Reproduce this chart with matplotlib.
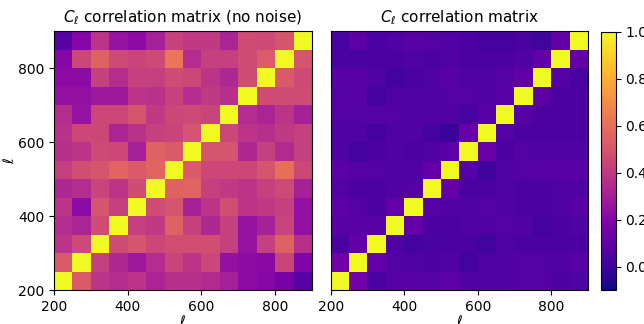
import numpy as np
import matplotlib
matplotlib.use("Agg")
import matplotlib.pyplot as plt

ell_edges = [200, 250, 300, 350, 400, 450, 500, 550, 600, 650, 700, 750, 800, 850, 900]
ticks = [200, 400, 600, 800]

# rows listed from ell=200 (bottom) to ell=850 (top)
corr_nonoise = [
    [1.00, 0.52, 0.38, 0.35, 0.38, 0.32, 0.36, 0.36, 0.34, 0.30, 0.22, 0.20, 0.16, 0.07],
    [0.52, 1.00, 0.42, 0.33, 0.27, 0.35, 0.44, 0.38, 0.45, 0.24, 0.22, 0.21, 0.44, 0.18],
    [0.38, 0.46, 1.00, 0.47, 0.50, 0.45, 0.48, 0.48, 0.48, 0.42, 0.25, 0.42, 0.55, 0.36],
    [0.35, 0.32, 0.47, 1.00, 0.42, 0.40, 0.55, 0.42, 0.33, 0.42, 0.25, 0.30, 0.44, 0.24],
    [0.38, 0.22, 0.50, 0.42, 1.00, 0.47, 0.50, 0.30, 0.38, 0.48, 0.38, 0.40, 0.42, 0.24],
    [0.33, 0.35, 0.44, 0.38, 0.47, 1.00, 0.55, 0.56, 0.42, 0.40, 0.38, 0.42, 0.46, 0.30],
    [0.42, 0.48, 0.50, 0.56, 0.52, 0.56, 1.00, 0.52, 0.45, 0.45, 0.45, 0.50, 0.60, 0.45],
    [0.36, 0.38, 0.46, 0.45, 0.30, 0.55, 0.52, 1.00, 0.50, 0.50, 0.33, 0.42, 0.34, 0.42],
    [0.37, 0.45, 0.45, 0.32, 0.37, 0.42, 0.44, 0.50, 1.00, 0.45, 0.38, 0.36, 0.40, 0.42],
    [0.35, 0.25, 0.45, 0.45, 0.50, 0.40, 0.45, 0.46, 0.44, 1.00, 0.35, 0.32, 0.38, 0.30],
    [0.24, 0.24, 0.27, 0.27, 0.38, 0.37, 0.43, 0.35, 0.40, 0.36, 1.00, 0.47, 0.47, 0.47],
    [0.22, 0.22, 0.42, 0.35, 0.42, 0.42, 0.47, 0.45, 0.38, 0.33, 0.47, 1.00, 0.52, 0.46],
    [0.20, 0.45, 0.55, 0.46, 0.44, 0.46, 0.62, 0.35, 0.42, 0.42, 0.47, 0.53, 1.00, 0.50],
    [0.07, 0.20, 0.38, 0.25, 0.22, 0.30, 0.43, 0.40, 0.40, 0.32, 0.47, 0.46, 0.50, 1.00],
]

corr_noise = [
    [1.00, 0.14, 0.03, 0.06, 0.07, 0.06, 0.08, 0.05, 0.05, 0.05, 0.06, 0.06, 0.04, 0.05],
    [0.14, 1.00, 0.10, 0.06, 0.05, 0.04, 0.05, 0.02, 0.05, 0.05, 0.06, 0.06, 0.05, 0.07],
    [0.03, 0.10, 1.00, 0.05, 0.02, 0.03, 0.04, 0.04, 0.01, 0.05, 0.03, 0.04, 0.04, 0.04],
    [0.07, 0.07, 0.07, 1.00, 0.10, 0.04, 0.04, 0.05, 0.05, 0.06, 0.05, 0.02, 0.04, 0.05],
    [0.08, 0.06, 0.04, 0.10, 1.00, 0.06, 0.05, 0.05, 0.06, 0.05, 0.04, 0.04, 0.05, 0.07],
    [0.06, 0.04, 0.04, 0.05, 0.06, 1.00, 0.10, 0.04, 0.04, 0.05, 0.04, 0.04, 0.05, 0.05],
    [0.08, 0.06, 0.06, 0.05, 0.05, 0.10, 1.00, 0.06, 0.00, 0.05, 0.06, 0.07, 0.07, 0.07],
    [0.05, 0.02, 0.04, 0.05, 0.04, 0.05, 0.08, 1.00, 0.12, 0.04, 0.06, 0.05, 0.05, 0.05],
    [0.05, 0.05, 0.02, 0.05, 0.05, 0.02, -0.01, 0.12, 1.00, 0.06, 0.04, 0.04, 0.04, 0.04],
    [0.06, 0.06, 0.06, 0.06, 0.05, 0.05, 0.05, 0.03, 0.07, 1.00, 0.06, 0.04, 0.04, 0.04],
    [0.06, 0.07, 0.02, 0.05, 0.05, 0.05, 0.06, 0.06, 0.05, 0.07, 1.00, 0.08, 0.04, 0.04],
    [0.07, 0.07, 0.05, 0.02, 0.04, 0.05, 0.07, 0.05, 0.05, 0.06, 0.09, 1.00, 0.06, 0.03],
    [0.03, 0.03, 0.04, 0.04, 0.05, 0.04, 0.05, 0.04, 0.04, 0.04, 0.05, 0.10, 1.00, 0.10],
    [0.03, 0.08, 0.04, 0.05, 0.07, 0.06, 0.05, 0.04, 0.02, 0.02, 0.03, 0.01, 0.10, 1.00],
]

vmin, vmax = -0.1, 1.0

fig = plt.figure(figsize=(6.44, 3.24), dpi=100)
W, H = 644, 324
def ax_rect(x0, y0, x1, y1):
    return [x0 / W, 1 - y1 / H, (x1 - x0) / W, (y1 - y0) / H]

ax1 = fig.add_axes(ax_rect(54, 31, 312, 290))
ax2 = fig.add_axes(ax_rect(330.7, 31, 588, 290))
cax = fig.add_axes(ax_rect(601, 31.7, 615.7, 290))

e = np.array(ell_edges)
m1 = ax1.pcolormesh(e, e, np.array(corr_nonoise), cmap="plasma", vmin=vmin, vmax=vmax)
m2 = ax2.pcolormesh(e, e, np.array(corr_noise), cmap="plasma", vmin=vmin, vmax=vmax)

for ax in (ax1, ax2):
    ax.set_xlim(200, 900)
    ax.set_ylim(200, 900)
    ax.set_xticks(ticks)
    ax.set_xlabel(r"$\ell$", labelpad=0)

ax1.set_yticks(ticks)
ax1.set_ylabel(r"$\ell$", labelpad=1)
ax2.set_yticks([])

ax1.set_title(r"$C_\ell$ correlation matrix (no noise)", fontsize=11)
ax2.set_title(r"$C_\ell$ correlation matrix", fontsize=11)

cb = fig.colorbar(m2, cax=cax, ticks=[0.0, 0.2, 0.4, 0.6, 0.8, 1.0])

fig.savefig("out.png", dpi=100)
